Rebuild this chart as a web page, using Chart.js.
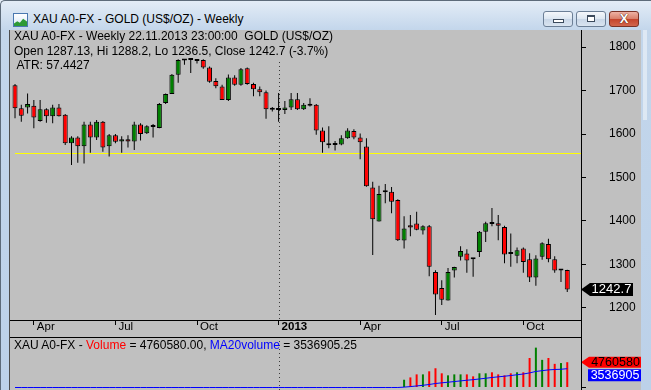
<!DOCTYPE html>
<html>
<head>
<meta charset="utf-8">
<script src="https://cdn.jsdelivr.net/npm/chart.js@4.4.1/dist/chart.umd.min.js"></script>
<style>
    body {
        margin: 0;
        width: 651px;
        height: 390px;
        overflow: hidden;
        position: relative;
        background: linear-gradient(#e4edf7, #c3d6eb 30px, #bcd1e9);
        font-family: 'Liberation Sans', Arial, sans-serif;
    }
    .abs { position: absolute; }
    #win-edge { left: 0; top: 0; width: 650px; height: 389px; border-top: 1px solid #5d6b7a; border-left: 1px solid #5d6b7a; border-top-left-radius: 5px; }
    #icon { left: 13px; top: 13px; width: 13px; height: 12px; border: 1px solid #4a78b0; background: linear-gradient(#ffffff, #d6e6f7); overflow: hidden; }
    #icon i { position: absolute; left: 0; bottom: 0; width: 13px; height: 8px; background: #2e9a36; clip-path: polygon(0 70%, 25% 40%, 45% 60%, 70% 10%, 100% 45%, 100% 100%, 0 100%); }
    #title { left: 33px; top: 12px; font-size: 12px; color: #000; white-space: pre; }
    .btn { top: 11px; width: 28px; height: 14px; border: 1px solid #6c7f96; border-radius: 3px;
           background: linear-gradient(#f4f7fb 0%, #dde7f2 48%, #c8d6e7 52%, #d9e4f0 100%); }
    .btn.close { border-color: #7a3226; background: linear-gradient(#eeb2a4 0%, #d9806b 48%, #c4442c 52%, #d2664d 100%); }
    #bmin i { position: absolute; left: 9px; top: 7px; width: 9px; height: 2px; background: #fff; border: 1px solid #3b4a5c; }
    #bmax i { position: absolute; left: 10px; top: 3px; width: 6px; height: 4px; background: #fff; border: 1px solid #3b4a5c; border-top-width: 2px; }
    #bclose span { position: absolute; left: 0; top: -1px; width: 28px; text-align: center; font: bold 13px 'Liberation Sans', Arial, sans-serif; color: #fff; text-shadow: 0 0 1px #4a1a12, 0 0 1px #4a1a12; }
    #chart-bg { left: 9px; top: 30px; width: 632px; height: 360px; background: #c0c0c0; border-left: 1px solid #4d4d4d; box-sizing: border-box; }
    #glint { left: 643px; top: 30px; width: 4px; height: 90px; background: rgba(255,255,255,0.45); }
    canvas { position: absolute; left: 10px; }
    #price { top: 30px; }
    #volume { top: 337px; }
    .line { background: #000; }
    .txt { font-size: 12px; color: #000; white-space: pre; line-height: 14px; }
</style>
</head>
<body>
<div id="win-edge" class="abs"></div>
<div id="icon" class="abs"><i></i></div>
<div id="title" class="abs">XAU A0-FX - GOLD (US$/OZ) - Weekly</div>
<div id="bmin" class="abs btn" style="left:543px"><i></i></div>
<div id="bmax" class="abs btn" style="left:576px"><i></i></div>
<div id="bclose" class="abs btn close" style="left:609px"><span>X</span></div>
<div id="chart-bg" class="abs"></div>
<div id="glint" class="abs"></div>

<canvas id="price" width="631" height="307"></canvas>
<canvas id="volume" width="631" height="53"></canvas>

<div class="abs line" style="left:581px; top:30px; width:1px; height:360px"></div>
<div class="abs line" style="left:10px; top:320px; width:571px; height:1px"></div>
<div class="abs line" style="left:10px; top:337px; width:571px; height:1px"></div>

<div class="abs txt" style="left:14px; top:29px">XAU A0-FX - Weekly 22.11.2013 23:00:00  GOLD (US$/OZ)</div>
<div class="abs txt" style="left:14px; top:43.5px">Open 1287.13, Hi 1288.2, Lo 1236.5, Close 1242.7 (-3.7%)</div>
<div class="abs txt" style="left:16.5px; top:58px">ATR: 57.4427</div>
<div class="abs txt" style="left:14px; top:338px">XAU A0-FX - <span style="color:#ff0000">Volume</span> = 4760580.00, <span style="color:#0000ff">MA20volume</span> = 3536905.25</div>

<script>
// weekly candles, week ending 16.03.2012 ... 22.11.2013
const opens = [
    1712, 1659, 1661, 1665, 1630, 1657, 1641, 1661, 1644, 1579,
    1592, 1572, 1622, 1592, 1628, 1572, 1597, 1583, 1588, 1583,
    1622, 1602, 1616, 1614, 1671, 1692, 1736, 1769, 1771, 1768,
    1770, 1753, 1722, 1709, 1678, 1730, 1713, 1751, 1715, 1703,
    1696, 1658, 1655, 1655, 1661, 1680, 1657, 1665, 1667, 1608,
    1579, 1575, 1576, 1590, 1607, 1592, 1571, 1477, 1399, 1466,
    1467, 1448, 1355, 1390, 1394, 1378, 1388, 1283, 1246, 1217,
    1286, 1318, 1325, 1313, 1329, 1375, 1395, 1395, 1386, 1326,
    1320, 1337, 1312, 1270, 1318, 1347, 1312, 1286, 1287.13
];
const highs = [
    1715, 1667, 1693, 1678, 1678, 1659, 1667, 1669, 1646, 1595,
    1595, 1628, 1628, 1632, 1630, 1600, 1600, 1595, 1597, 1628,
    1625, 1620, 1623, 1671, 1693, 1738, 1772, 1772, 1772, 1772,
    1772, 1755, 1728, 1713, 1737, 1735, 1752, 1753, 1718, 1709,
    1700, 1662, 1694, 1676, 1694, 1694, 1671, 1682, 1669, 1615,
    1618, 1584, 1597, 1613, 1611, 1601, 1590, 1490, 1481, 1485,
    1478, 1450, 1411, 1414, 1421, 1390, 1391, 1287, 1264, 1292,
    1295, 1342, 1335, 1314, 1377, 1398, 1430, 1414, 1389, 1371,
    1339, 1339, 1326, 1321, 1351, 1359, 1319, 1289, 1288.2
];
const lows = [
    1636, 1628, 1647, 1613, 1628, 1626, 1625, 1640, 1575, 1529,
    1534, 1532, 1557, 1586, 1559, 1548, 1579, 1557, 1569, 1563,
    1585, 1600, 1592, 1613, 1669, 1692, 1718, 1759, 1740, 1762,
    1750, 1718, 1705, 1678, 1676, 1711, 1711, 1713, 1687, 1687,
    1635, 1652, 1628, 1646, 1655, 1655, 1655, 1663, 1598, 1557,
    1567, 1562, 1574, 1589, 1588, 1542, 1479, 1322, 1399, 1441,
    1418, 1354, 1337, 1365, 1379, 1369, 1273, 1184, 1207, 1217,
    1270, 1309, 1281, 1272, 1317, 1352, 1388, 1356, 1303, 1295,
    1303, 1281, 1260, 1251, 1311, 1305, 1281, 1260, 1236.5
];
const closes = [
    1659, 1642, 1669, 1638, 1657, 1641, 1661, 1641, 1579, 1592,
    1572, 1622, 1592, 1628, 1569, 1597, 1582, 1588, 1583, 1622,
    1600, 1618, 1618, 1669, 1692, 1736, 1770, 1771, 1770, 1770,
    1753, 1720, 1710, 1678, 1730, 1713, 1749, 1715, 1703, 1696,
    1657, 1656, 1656, 1661, 1680, 1657, 1667, 1666, 1608, 1581,
    1574, 1577, 1590, 1608, 1592, 1581, 1480, 1404, 1462, 1468,
    1444, 1356, 1383, 1385, 1380, 1388, 1295, 1231, 1219, 1283,
    1294, 1331, 1309, 1312, 1375, 1395, 1393, 1389, 1323, 1324,
    1333, 1306, 1270, 1314, 1349, 1312, 1286, 1288, 1242.7
];
const volumes = [
    0, 0, 0, 0, 0, 0, 0, 0, 0, 0,
    0, 0, 0, 0, 0, 0, 0, 0, 0, 0,
    0, 0, 0, 0, 0, 0, 0, 0, 0, 0,
    0, 0, 0, 0, 0, 0, 0, 0, 0, 0,
    0, 0, 0, 0, 0, 0, 0, 0, 0, 0,
    0, 0, 0, 0, 0, 0, 0, 0, 0, 0,
    0, 0, 1460000, 1900000, 2470000, 2470000, 3050000, 3620000, 2670000, 2290000,
    2470000, 2470000, 2470000, 2100000, 2670000, 2670000, 2860000, 2470000, 2290000, 2670000,
    2860000, 2860000, 5550000, 7500000, 5200000, 5550000, 4450000, 4600000, 4760580
];
const ma20volume = [
    0, 0, 0, 0, 0, 0, 0, 0, 0, 0,
    0, 0, 0, 0, 0, 0, 0, 0, 0, 0,
    0, 0, 0, 0, 0, 0, 0, 0, 0, 0,
    0, 0, 0, 0, 0, 0, 0, 0, 0, 0,
    0, 0, 0, 0, 0, 0, 0, 0, 0, 0,
    0, 0, 0, 0, 0, 0, 0, 0, 0, 0,
    0, 0, 73000, 168000, 291500, 415000, 567500, 748500, 882000, 996500,
    1120000, 1243500, 1367000, 1472000, 1605500, 1739000, 1882000, 2005500, 2120000, 2253500,
    2396500, 2539500, 2744000, 3024000, 3161000, 3315000, 3385000, 3434000, 3536905.25
];
const priceTicks = [1200, 1300, 1400, 1500, 1600, 1700, 1800];
const dateTickIndex = [3, 16, 29, 42, 55, 68, 81];
const dateTickLabels = ['Apr', 'Jul', 'Oct', '2013', 'Apr', 'Jul', 'Oct'];
const levelLine = 1555.18;
const yearBreak = 42;

// scale ranges (candle index on x)
const xMin = -0.8, xMax = 90.19;
const yMin = 1172.4, yMax = 1839.1;
const vMin = -470000, vMax = 9501000;

const UP = '#008000', DOWN = '#ff0000';
const FONT = "'Liberation Sans', Arial, sans-serif";
Chart.defaults.font.family = FONT;
Chart.defaults.color = '#000';

const candleColors = closes.map((c, i) => c >= opens[i] ? UP : DOWN);

// fixed axis sizes, no label overflow padding
function fixWidth(w) {
    return s => { s.width = w; s.paddingTop = 0; s.paddingBottom = 0; };
}
function fixHeight(h) {
    return s => { s.height = h; s.paddingLeft = 0; s.paddingRight = 0; };
}

// dotted separator at the start of 2013
const yearLinePlugin = {
    id: 'yearLine',
    beforeDatasetsDraw(chart, args, opts) {
        const {ctx, chartArea} = chart;
        const x = Math.round(chart.scales.x.getPixelForValue(yearBreak)) + 0.5;
        ctx.save();
        ctx.strokeStyle = '#3a3a3a';
        ctx.lineWidth = 1;
        ctx.setLineDash([1, 3]);
        ctx.beginPath();
        ctx.moveTo(x, chartArea.top + (opts.top || 0));
        ctx.lineTo(x, chartArea.bottom);
        ctx.stroke();
        ctx.restore();
    }
};

// pointer box on the right axis
function drawTag(ctx, tipX, y, boxX, right, h, fill, textColor, text, arrow, size) {
    ctx.save();
    ctx.fillStyle = fill;
    ctx.beginPath();
    if (arrow) {
        ctx.moveTo(tipX, y);
        ctx.lineTo(boxX, y - h / 2);
    } else {
        ctx.moveTo(boxX, y - h / 2);
    }
    ctx.lineTo(right, y - h / 2);
    ctx.lineTo(right, y + h / 2);
    ctx.lineTo(boxX, y + h / 2);
    ctx.closePath();
    ctx.fill();
    ctx.fillStyle = textColor;
    ctx.font = size + 'px ' + FONT;
    ctx.textAlign = 'center';
    ctx.textBaseline = 'middle';
    ctx.fillText(text, (boxX + right) / 2, y + 0.5);
    ctx.restore();
}

const lastPricePlugin = {
    id: 'lastPrice',
    afterDraw(chart) {
        const last = closes[closes.length - 1];
        const y = chart.scales.y.getPixelForValue(last);
        const r = chart.chartArea.right;
        drawTag(chart.ctx, r, y, r + 9, r + 52, 13, '#000', '#fff', String(last), true, 13);
    }
};

const lastVolumePlugin = {
    id: 'lastVolume',
    afterDraw(chart) {
        const n = volumes.length - 1;
        const r = chart.chartArea.right;
        const y = chart.scales.y.getPixelForValue(volumes[n]);
        drawTag(chart.ctx, r, y, r + 8, r + 61, 11, '#ff0000', '#000', String(Math.round(volumes[n])), true, 12.5);
        drawTag(chart.ctx, r, y + 13, r + 7, r + 61, 12, '#0000ff', '#fff', String(Math.round(ma20volume[n])), false, 12.5);
    }
};

function drawPriceChart() {
    const ctx = document.getElementById('price').getContext('2d');
    new Chart(ctx, {
        type: 'bar',
        data: {
            datasets: [{
                label: 'body',
                order: 0,
                data: opens.map((o, i) => ({x: i, y: [Math.min(o, closes[i]), Math.max(o, closes[i])]})),
                backgroundColor: candleColors,
                borderColor: '#000',
                borderWidth: 1,
                borderSkipped: false,
                barThickness: 5,
                minBarLength: 2,
                inflateAmount: 0,
                grouped: false
            }, {
                label: 'wick',
                order: 1,
                data: highs.map((h, i) => ({x: i, y: [lows[i], h]})),
                backgroundColor: '#000',
                borderWidth: 0,
                barThickness: 1,
                inflateAmount: 0,
                grouped: false
            }, {
                type: 'line',
                label: 'level',
                order: 2,
                data: [{x: 0, y: levelLine}, {x: xMax, y: levelLine}],
                borderColor: '#ffff00',
                borderWidth: 1,
                pointRadius: 0
            }]
        },
        options: {
            responsive: false,
            animation: false,
            layout: {padding: 0, autoPadding: false},
            plugins: {
                legend: {display: false},
                tooltip: {enabled: false},
                yearLine: {top: 32}
            },
            scales: {
                x: {
                    type: 'linear',
                    position: 'bottom',
                    offset: false,
                    min: xMin,
                    max: xMax,
                    afterBuildTicks: s => { s.ticks = dateTickIndex.map(v => ({value: v})); },
                    afterFit: fixHeight(17),
                    grid: {drawOnChartArea: false, offset: false, tickLength: 5, color: '#000'},
                    border: {display: false},
                    ticks: {
                        autoSkip: false,
                        maxRotation: 0,
                        align: 'start',
                        padding: -5,
                        labelOffset: 3,
                        color: '#000',
                        font: c => ({size: 11.5, weight: c.tick && c.tick.label === '2013' ? 'bold' : 'normal'}),
                        callback: v => dateTickLabels[dateTickIndex.indexOf(v)]
                    }
                },
                y: {
                    position: 'right',
                    offset: false,
                    min: yMin,
                    max: yMax,
                    afterBuildTicks: s => { s.ticks = priceTicks.map(v => ({value: v})); },
                    afterFit: fixWidth(60),
                    grid: {drawOnChartArea: false, tickLength: 5, color: '#000'},
                    border: {display: false},
                    ticks: {color: '#000', font: {size: 12}, padding: 23, callback: v => String(v)}
                }
            }
        },
        plugins: [yearLinePlugin, lastPricePlugin]
    });
}

function drawVolumeChart() {
    const ctx = document.getElementById('volume').getContext('2d');
    new Chart(ctx, {
        type: 'bar',
        data: {
            datasets: [{
                type: 'line',
                label: 'MA20volume',
                order: 0,
                data: ma20volume.map((v, i) => ({x: i, y: v})),
                borderColor: '#0000ff',
                borderWidth: 1,
                pointRadius: 0,
                tension: 0
            }, {
                label: 'Volume',
                order: 1,
                data: volumes.map((v, i) => ({x: i, y: v})),
                backgroundColor: candleColors,
                borderWidth: 0,
                barThickness: 2,
                inflateAmount: 0,
                grouped: false
            }]
        },
        options: {
            responsive: false,
            animation: false,
            layout: {padding: 0, autoPadding: false},
            plugins: {
                legend: {display: false},
                tooltip: {enabled: false}
            },
            scales: {
                x: {type: 'linear', offset: false, min: xMin, max: xMax, display: false},
                y: {
                    position: 'right',
                    offset: false,
                    min: vMin,
                    max: vMax,
                    afterBuildTicks: s => { s.ticks = [{value: 0}]; },
                    afterFit: fixWidth(60),
                    grid: {drawOnChartArea: false, tickLength: 5, color: '#000'},
                    border: {display: false},
                    ticks: {display: false}
                }
            }
        },
        plugins: [yearLinePlugin, lastVolumePlugin]
    });
}

drawPriceChart();
drawVolumeChart();
</script>
</body>
</html>
